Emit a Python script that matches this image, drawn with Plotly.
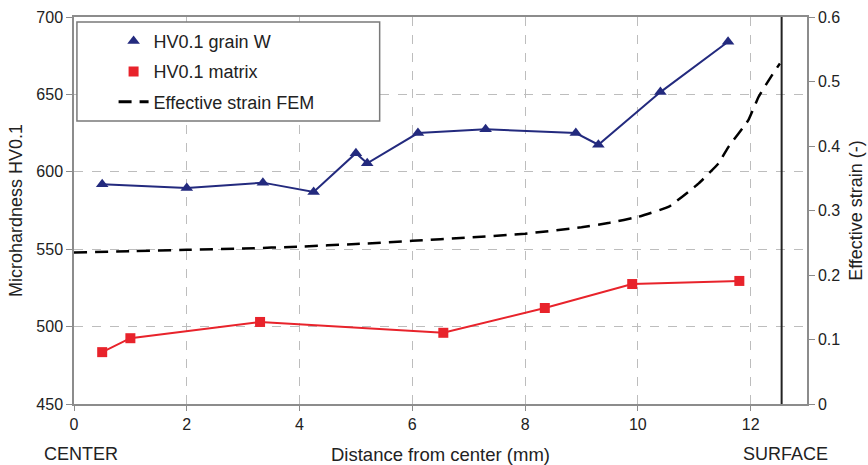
import plotly.graph_objects as go

# Data
grain_x = [0.5, 2.0, 3.35, 4.25, 5.0, 5.2, 6.1, 7.3, 8.9, 9.3, 10.4, 11.6]
grain_hv = [592, 589.5, 593, 587, 612, 605.5, 625, 627.5, 625, 617.5, 651.5, 684]

matrix_x = [0.5, 1.0, 3.3, 6.55, 8.35, 9.9, 11.8]
matrix_hv = [483.5, 492.5, 503, 496, 512, 527.5, 529.5]

strain_x = [0, 1, 2, 3, 4, 5, 6, 7, 8, 9, 9.5, 10, 10.55, 11.08, 11.43, 11.61, 11.96, 12.14, 12.38, 12.52]
strain_v = [0.235, 0.237, 0.239, 0.241, 0.244, 0.248, 0.253, 0.258, 0.264, 0.274, 0.281,
            0.290, 0.306, 0.342, 0.373, 0.399, 0.440, 0.476, 0.510, 0.528]

x_ticks = [0, 2, 4, 6, 8, 10, 12]
surface_x = 12.55

FONT = "Liberation Sans, Arial, sans-serif"
BLUE = "#232a7e"
RED = "#e8232b"
GRID = "#bdbdbd"
AXIS = "#8c8c8c"

fig = go.Figure()

fig.add_trace(go.Scatter(x=grain_x, y=grain_hv, mode="lines+markers",
                         line=dict(color=BLUE, width=2),
                         marker=dict(symbol="triangle-up", size=11, color=BLUE),
                         showlegend=False))
fig.add_trace(go.Scatter(x=matrix_x, y=matrix_hv, mode="lines+markers",
                         line=dict(color=RED, width=2),
                         marker=dict(symbol="square", size=10, color=RED),
                         showlegend=False))
fig.add_trace(go.Scatter(x=strain_x, y=strain_v, mode="lines", yaxis="y2",
                         line=dict(color="black", width=2.5, dash="13px,8px", shape="spline", smoothing=0.3),
                         showlegend=False))

# legend entries
fig.add_trace(go.Scatter(x=[None], y=[None], mode="markers", name="HV0.1 grain W",
                         marker=dict(symbol="triangle-up", size=11, color=BLUE),
                         legendgroup="a"))
fig.add_trace(go.Scatter(x=[None], y=[None], mode="markers", name="HV0.1 matrix",
                         marker=dict(symbol="square", size=10, color=RED),
                         legendgroup="b"))
fig.add_trace(go.Scatter(x=[None], y=[None], mode="lines", name="Effective strain FEM",
                         line=dict(color="black", width=3, dash="13px,8px"),
                         legendgroup="c"))

fig.add_shape(type="line", xref="x", yref="y domain", x0=surface_x, x1=surface_x, y0=0, y1=1.0,
              line=dict(color="#222222", width=2))
fig.add_shape(type="rect", xref="paper", yref="paper", x0=0.004, x1=0.417, y0=0.731, y1=0.987,
              line=dict(color="#7a7a7a", width=1.5), fillcolor="white", layer="above")

fig.add_annotation(text="CENTER", xref="paper", yref="paper", x=-0.043, y=-0.13,
                   xanchor="left", yanchor="middle", showarrow=False,
                   font=dict(family=FONT, size=18, color="#222"))
fig.add_annotation(text="Distance from center (mm)", xref="x", yref="paper", x=6.5, y=-0.13,
                   xanchor="center", yanchor="middle", showarrow=False,
                   font=dict(family=FONT, size=18.5, color="#222"))
fig.add_annotation(text="SURFACE", xref="x", yref="paper", x=12.62, y=-0.13,
                   xanchor="center", yanchor="middle", showarrow=False,
                   font=dict(family=FONT, size=18, color="#222"))

fig.update_layout(
    width=868, height=465,
    margin=dict(l=74, r=61, t=17, b=61),
    paper_bgcolor="white", plot_bgcolor="white",
    font=dict(family=FONT, size=16, color="#222"),
    xaxis=dict(range=[0, 13], tickvals=x_ticks, showgrid=True, gridcolor=GRID, griddash="dash",
               gridwidth=1, showline=True, linecolor=AXIS, linewidth=1.5, mirror=True,
               ticks="outside", ticklen=5, tickcolor=AXIS, zeroline=False,
               tickfont=dict(size=16), automargin=False),
    yaxis=dict(range=[450, 700], dtick=50, showgrid=True, gridcolor=GRID, griddash="dash",
               showline=True, linecolor=AXIS, linewidth=1.5, ticks="outside", ticklen=6,
               tickcolor=AXIS, zeroline=False, tickfont=dict(size=16), automargin=False,
               title=dict(text="Microhardness HV0.1", font=dict(size=18), standoff=9)),
    yaxis2=dict(range=[0, 0.6], dtick=0.1, overlaying="y", side="right", showgrid=False,
                showline=True, linecolor=AXIS, linewidth=1.5, ticks="outside", ticklen=6,
                tickcolor=AXIS, zeroline=False, tickfont=dict(size=16), automargin=False,
                title=dict(text="Effective strain (-)", font=dict(size=18), standoff=10)),
    legend=dict(x=0.054, y=0.985, xanchor="left", yanchor="top", bgcolor="rgba(0,0,0,0)",
                borderwidth=0, font=dict(size=18, color="#222"), tracegroupgap=4,
                traceorder="grouped"),
)

fig.write_html("out.html", config={"displayModeBar": False},
               post_script="document.body.style.margin='0';document.body.style.padding='0';")
